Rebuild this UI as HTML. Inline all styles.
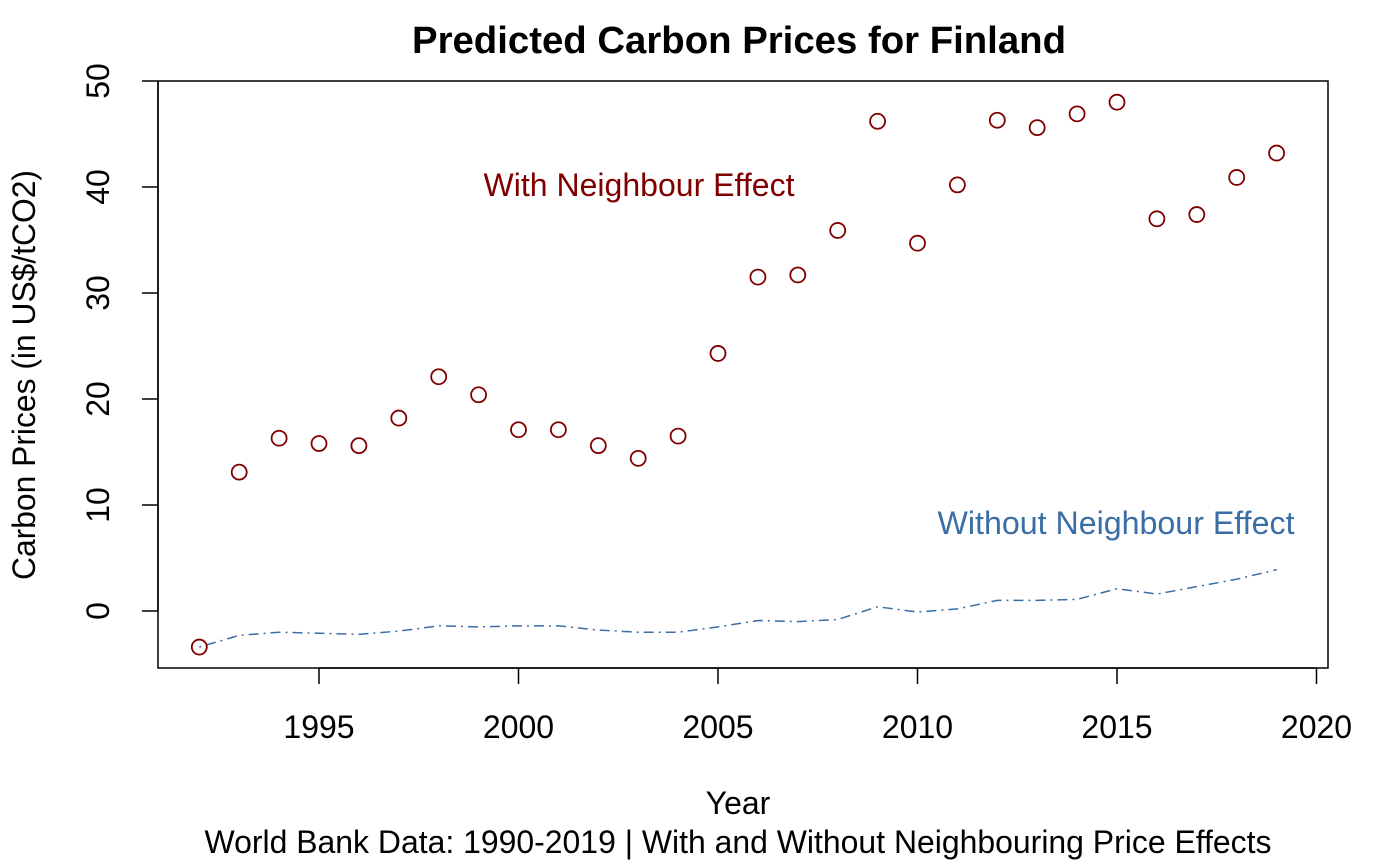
<!DOCTYPE html>
<html><head><meta charset="utf-8"><style>
html,body{margin:0;padding:0;background:#fff;}
svg{display:block;font-family:"Liberation Sans",Arial,sans-serif;}
</style></head><body>
<svg id="chart" width="1400" height="865" viewBox="0 0 1400 865">
<text x="739" y="53" font-size="38" font-weight="bold" text-anchor="middle" textLength="654" lengthAdjust="spacingAndGlyphs">Predicted Carbon Prices for Finland</text>
<rect x="158" y="81" width="1170" height="587" fill="none" stroke="#000" stroke-width="1.5"/>
<g id="xaxis"></g>
<g id="yaxis"></g>
<text x="738" y="814" font-size="32" text-anchor="middle">Year</text>
<text x="738" y="853" font-size="32" text-anchor="middle" textLength="1067" lengthAdjust="spacingAndGlyphs">World Bank Data: 1990-2019 | With and Without Neighbouring Price Effects</text>
<text transform="translate(35,375) rotate(-90)" font-size="32" text-anchor="middle" textLength="410" lengthAdjust="spacingAndGlyphs">Carbon Prices (in US$/tCO2)</text>
<text x="639" y="196" font-size="32" fill="#800000" text-anchor="middle" textLength="311" lengthAdjust="spacingAndGlyphs">With Neighbour Effect</text>
<text x="1116" y="534" font-size="32" fill="#3a6ea5" text-anchor="middle" textLength="357" lengthAdjust="spacingAndGlyphs">Without Neighbour Effect</text>
<g id="series"></g>
</svg>
<script>
const years=[1992,1993,1994,1995,1996,1997,1998,1999,2000,2001,2002,2003,2004,2005,2006,2007,2008,2009,2010,2011,2012,2013,2014,2015,2016,2017,2018,2019];
const withNeighbour=[-3.4,13.1,16.3,15.8,15.6,18.2,22.1,20.4,17.1,17.1,15.6,14.4,16.5,24.3,31.5,31.7,35.9,46.2,34.7,40.2,46.3,45.6,46.9,48.0,37.0,37.4,40.9,43.2];
const withoutNeighbour=[-3.4,-2.3,-2.0,-2.1,-2.2,-1.9,-1.4,-1.5,-1.4,-1.4,-1.8,-2.0,-2.0,-1.5,-0.9,-1.0,-0.8,0.4,-0.1,0.2,1.0,1.0,1.1,2.1,1.6,2.3,3.0,3.9];
const xTicks=[1995,2000,2005,2010,2015,2020];
const yTicks=[0,10,20,30,40,50];
const NS="http://www.w3.org/2000/svg";
const X=v=>319+(v-1995)*39.9;
const Y=v=>611-v*10.6;
function mk(tag,attrs,parent){const e=document.createElementNS(NS,tag);for(const k in attrs)e.setAttribute(k,attrs[k]);parent.appendChild(e);return e;}
const xa=document.getElementById('xaxis');
mk('line',{x1:X(1995),x2:X(2020),y1:668,y2:668,stroke:'#000','stroke-width':1.5},xa);
xTicks.forEach(t=>{
 const l=mk('line',{x1:X(t),x2:X(t),y1:668,y2:684,stroke:'#000','stroke-width':1.5},xa);
 
 
 const tx=mk('text',{x:X(t),y:738,'font-size':32,'text-anchor':'middle'},xa);tx.textContent=t;
 
 
});
const ya=document.getElementById('yaxis');
mk('line',{x1:158,x2:158,y1:Y(0),y2:Y(50),stroke:'#000','stroke-width':1.5},ya);
yTicks.forEach(t=>{
 const l=mk('line',{x1:142,x2:158,y1:Y(t),y2:Y(t),stroke:'#000','stroke-width':1.5},ya);
 
 
 const tx=mk('text',{transform:`translate(109,${Y(t)}) rotate(-90)`,'font-size':32,'text-anchor':'middle'},ya);tx.textContent=t;
 
 
});
const s=document.getElementById('series');
const line=mk('polyline',{points:years.map((y,i)=>X(y)+','+Y(withoutNeighbour[i])).join(' '),fill:'none',stroke:'#3a6ea5','stroke-width':1.5,'stroke-dasharray':'2,5,10,5'},s);


years.forEach((y,i)=>{
 const c=mk('circle',{cx:X(y),cy:Y(withNeighbour[i]),r:7.5,fill:'none',stroke:'#800000','stroke-width':1.8},s);
 
 
});
</script>
</body></html>
